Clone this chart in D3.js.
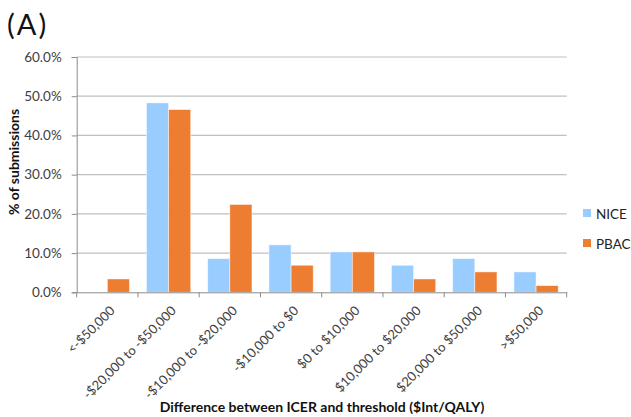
<!DOCTYPE html>
<html><head><meta charset="utf-8">
<script src="https://cdn.jsdelivr.net/npm/d3@7"></script>
<style>body{margin:0;background:#fff}svg{display:block}text{font-family:Lato,"Open Sans",sans-serif}</style>
</head><body><svg id="c" width="631" height="417"></svg>
<script>
const categories = ["<-$50,000","-$20,000 to -$50,000","-$10,000 to -$20,000","-$10,000 to $0","$0 to $10,000","$10,000 to $20,000","$20,000 to $50,000",">$50,000"];
const nice = [0, 48.3, 8.6, 12.1, 10.3, 6.9, 8.6, 5.2];
const pbac = [3.4, 46.6, 22.4, 6.9, 10.3, 3.4, 5.2, 1.7];
const seriesNames = ["NICE","PBAC"];
const colors = ["#99CCFF","#ED7D31"];
const yTicks = [0,10,20,30,40,50,60];

const svg = d3.select("#c");
const m = {l:76.7, r:566.7, t:57, b:292.3};
const x = d3.scaleBand().domain(categories).range([m.l, m.r]).paddingInner(0).paddingOuter(0);
const x1 = d3.scaleBand().domain(seriesNames).range([0, x.bandwidth()]).paddingInner(0).paddingOuter(0.383);
const y = d3.scaleLinear().domain([0,60]).range([m.b, m.t]);

// gridlines
svg.append("g").selectAll("line").data(yTicks.filter(d=>d>0)).join("line")
  .attr("x1", m.l).attr("x2", m.r).attr("y1", d=>y(d)).attr("y2", d=>y(d))
  .attr("stroke", "#c0c0c0").attr("stroke-width", 1.2);

// y axis
const ya = svg.append("g").attr("transform", `translate(${m.l},0)`)
  .call(d3.axisLeft(y).tickValues(yTicks).tickFormat(d=>d.toFixed(1)+"%").tickSize(5).tickPadding(10));
ya.select(".domain").attr("stroke","#8c8c8c");
ya.selectAll(".tick line").attr("stroke","#8c8c8c");
ya.selectAll("text").attr("font-size", 13.5).attr("fill","#404040").attr("font-family","'Open Sans',Lato,sans-serif");

// bars
const data = categories.map((c,i)=>({c, vals:[nice[i], pbac[i]]}));
const grp = svg.append("g").selectAll("g").data(data).join("g")
  .attr("transform", d=>`translate(${x(d.c)},0)`);
grp.selectAll("rect").data(d=>d.vals.map((v,j)=>({s:seriesNames[j], v, j}))).join("rect")
  .attr("x", d=>x1(d.s)).attr("width", x1.bandwidth())
  .attr("y", d=>y(d.v)).attr("height", d=>y(0)-y(d.v))
  .attr("fill", d=>colors[d.j]).attr("stroke", "#fff").attr("stroke-opacity",0.6).attr("stroke-width", 0.8);

// x axis
const xa = svg.append("g").attr("transform", `translate(0,${m.b})`)
  .call(d3.axisBottom(x).tickSize(0).tickFormat(""));
xa.select(".domain").attr("stroke","#8c8c8c");
const bounds = categories.map(c=>x(c)).concat([m.r]);
svg.append("g").selectAll("line").data(bounds).join("line")
  .attr("x1", d=>d).attr("x2", d=>d).attr("y1", m.b).attr("y2", m.b+5).attr("stroke","#8c8c8c");
svg.append("g").selectAll("text").data(categories).join("text")
  .attr("transform", d=>`translate(${x(d)+x.bandwidth()/2+5},${m.b+16}) rotate(-45)`)
  .attr("text-anchor","end").attr("dy","0.35em").attr("font-size", 13).attr("fill","#404040")
  .attr("font-family","'Open Sans',Lato,sans-serif")
  .text(d=>d);

// titles
svg.append("text").attr("x", 7).attr("y", 35).attr("font-size", 29).attr("letter-spacing", 2).attr("fill","#111")
  .attr("font-family","'Open Sans',Lato,sans-serif").text("(A)");
svg.append("text").attr("transform","translate(19,162) rotate(-90)").attr("text-anchor","middle")
  .attr("font-size", 14).attr("font-weight","bold").attr("fill","#111").text("% of submissions");
svg.append("text").attr("x", 322).attr("y", 412).attr("text-anchor","middle")
  .attr("font-size", 14).attr("font-weight","bold").attr("fill","#111").text("Difference between ICER and threshold ($Int/QALY)");

// legend
const lg = svg.append("g").selectAll("g").data(seriesNames).join("g")
  .attr("transform", (d,i)=>`translate(583,${209+i*30})`);
lg.append("rect").attr("width", 8).attr("height", 8).attr("fill", (d,i)=>colors[i]);
lg.append("text").attr("x", 13).attr("y", 9.5).attr("font-size", 13.5).attr("fill","#222")
  .attr("font-family","'Open Sans',Lato,sans-serif").text(d=>d);
</script></body></html>
